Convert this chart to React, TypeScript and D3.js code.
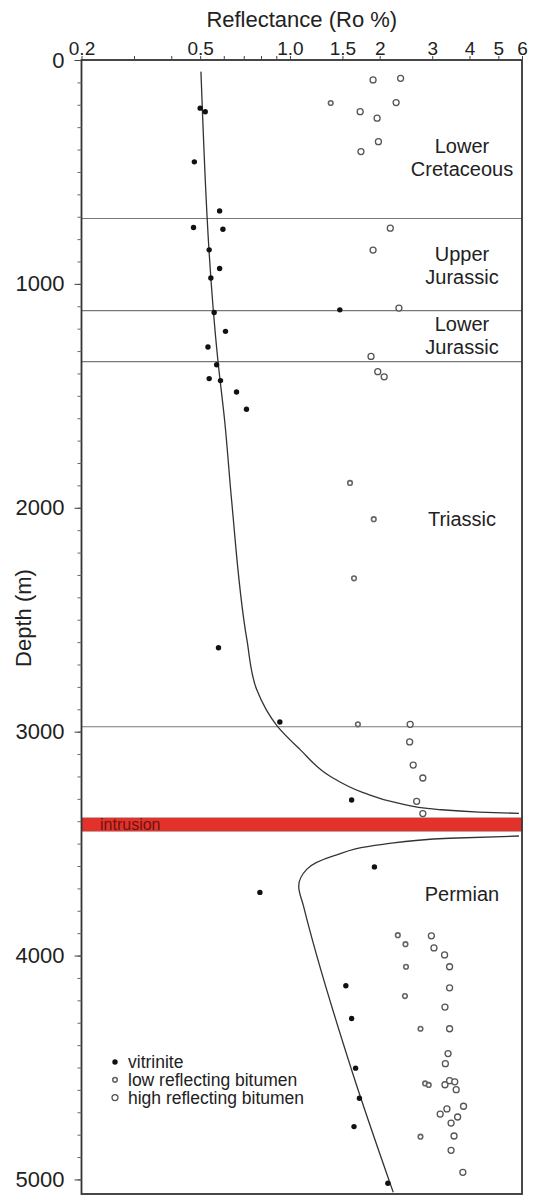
import React, { useEffect, useRef } from 'react'
import * as d3 from 'd3'

// every point is [Ro %, depth m]
const vitrinite = [
  [0.50, 215], [0.52, 231], [0.478, 455], [0.581, 674], [0.475, 748], [0.596, 756],
  [0.536, 848], [0.581, 931], [0.543, 974], [0.557, 1128], [1.47, 1116], [0.608, 1212],
  [0.531, 1282], [0.568, 1361], [0.536, 1423], [0.585, 1432], [0.662, 1483], [0.715, 1560],
  [0.576, 2625], [0.925, 2957], [1.61, 3305], [1.92, 3604], [0.793, 3718], [1.54, 4135],
  [1.61, 4281], [1.66, 4503], [1.71, 4637], [1.64, 4764], [2.13, 5017]
]

const lowBitumen = [
  [1.37, 192], [1.59, 1889], [1.91, 2051], [1.64, 2315], [1.69, 2967],
  [2.30, 3909], [2.44, 3949], [2.45, 4050], [2.43, 4181], [2.74, 4327],
  [2.84, 4571], [2.92, 4578], [2.74, 4809]
]

const highBitumen = [
  [1.90, 89], [2.35, 82], [2.27, 190], [1.72, 231], [1.96, 260], [1.98, 365], [1.73, 409],
  [2.17, 751], [1.90, 849], [2.32, 1108], [1.87, 1324], [1.97, 1392], [2.07, 1415],
  [2.53, 2967], [2.52, 3046], [2.59, 3149], [2.79, 3207], [2.66, 3311], [2.79, 3366],
  [2.98, 3912], [3.04, 3966], [3.30, 3997], [3.43, 4050], [3.43, 4144], [3.31, 4230],
  [3.43, 4327], [3.39, 4438], [3.32, 4483], [3.31, 4577], [3.43, 4559], [3.57, 4564],
  [3.61, 4599], [3.82, 4673], [3.36, 4685], [3.19, 4708], [3.65, 4721], [3.47, 4748],
  [3.55, 4806], [3.47, 4870], [3.80, 4968]
]

const trendAbove = [
  [0.503, 52], [0.573, 1339], [0.605, 1620], [0.637, 1963], [0.717, 2588], [0.773, 2811],
  [0.908, 2976], [1.08, 3079], [1.36, 3198], [1.76, 3272], [2.27, 3317],
  [3.11, 3347], [4.3, 3359], [5.86, 3365]
]

const trendBelow = [
  [5.86, 3466], [3.43, 3476], [2.05, 3503], [1.40, 3555], [1.14, 3614], [1.07, 3690],
  [1.11, 3778], [1.62, 4522], [2.22, 5057]
]

const boundaries = [708, 1119, 1347, 2978]
const intrusion = [3384, 3446]

const unitNames = [['Lower', 'Cretaceous'], ['Upper', 'Jurassic'], ['Lower', 'Jurassic'], ['Triassic'], ['Permian']]
const unitDepths = [437, 919, 1232, 2050, 3723]

const roTicks = [0.2, 0.3, 0.4, 0.5, 0.6, 0.7, 0.8, 0.9, 1, 1.5, 2, 3, 4, 5, 6]
const roLabels = ['0.2', '', '', '0.5', '', '', '', '', '1.0', '1.5', '2', '3', '4', '5', '6']
const depthTicks = [0, 1000, 2000, 3000, 4000, 5000]

const legendItems = ['vitrinite', 'low reflecting bitumen', 'high reflecting bitumen']

const FONT = '"Liberation Sans", Arial, sans-serif'

export default function App() {
  const ref = useRef(null)

  useEffect(() => {
    const svg = d3.select(ref.current)
    svg.selectAll('*').remove()

    const left = 81.5, right = 522, top = 60, bottom = 1194

    let x = d3.scaleLog().domain([0.2, 6]).range([left, right])
    let y = d3.scaleLinear().domain([0, 5065]).range([top, bottom])

    // intrusion band
    svg.append('rect')
      .attr('x', left)
      .attr('width', right - left)
      .attr('y', y(intrusion[0]))
      .attr('height', y(intrusion[1]) - y(intrusion[0]))
      .attr('fill', '#e2322b')
      .attr('stroke', '#aaa')
      .attr('stroke-width', 0.6)

    svg.append('text')
      .attr('x', 100)
      .attr('y', (y(intrusion[0]) + y(intrusion[1])) / 2)
      .attr('dy', '0.36em')
      .attr('font-family', FONT)
      .attr('font-size', 16)
      .attr('fill', '#6e1210')
      .text('intrusion')

    // formation boundaries
    svg.selectAll('.boundary').data(boundaries)
      .enter().append('line')
      .attr('class', 'boundary')
      .attr('x1', left).attr('x2', right)
      .attr('y1', d => y(d)).attr('y2', d => y(d))
      .attr('stroke', '#777')
      .attr('stroke-width', 1.2)

    // vitrinite trend, both parts are single valued in depth
    let line = d3.line()
      .x(d => x(d[0]))
      .y(d => y(d[1]))
      .curve(d3.curveMonotoneY)

    svg.selectAll('.trend').data([trendAbove, trendBelow])
      .enter().append('path')
      .attr('class', 'trend')
      .attr('d', d => line(d))
      .attr('fill', 'none')
      .attr('stroke', '#333')
      .attr('stroke-width', 1.3)

    svg.selectAll('.low').data(lowBitumen)
      .enter().append('circle')
      .attr('class', 'low')
      .attr('cx', d => x(d[0])).attr('cy', d => y(d[1]))
      .attr('r', 2.3)
      .attr('fill', '#fff')
      .attr('stroke', '#666')
      .attr('stroke-width', 1.6)

    svg.selectAll('.high').data(highBitumen)
      .enter().append('circle')
      .attr('class', 'high')
      .attr('cx', d => x(d[0])).attr('cy', d => y(d[1]))
      .attr('r', 3)
      .attr('fill', '#fff')
      .attr('stroke', '#555')
      .attr('stroke-width', 1.3)

    svg.selectAll('.vit').data(vitrinite)
      .enter().append('circle')
      .attr('class', 'vit')
      .attr('cx', d => x(d[0])).attr('cy', d => y(d[1]))
      .attr('r', 2.7)
      .attr('fill', '#111')

    // frame
    svg.append('rect')
      .attr('x', left).attr('y', top)
      .attr('width', right - left).attr('height', bottom - top)
      .attr('fill', 'none')
      .attr('stroke', '#333')
      .attr('stroke-width', 1.8)

    // axes
    let xAxis = svg.append('g')
      .attr('transform', 'translate(0,' + top + ')')
      .call(d3.axisTop(x).tickValues(roTicks).tickFormat((d, i) => roLabels[i]).tickSize(4).tickPadding(1))
    xAxis.select('.domain').remove()
    xAxis.selectAll('text').attr('font-size', 19).attr('font-family', FONT).attr('fill', '#222')
    xAxis.selectAll('line').attr('stroke', '#444')

    let yMinor = svg.append('g')
      .attr('transform', 'translate(' + left + ',0)')
      .call(d3.axisLeft(y).tickValues(d3.range(0, 5001, 100)).tickSize(4).tickFormat(() => ''))
    yMinor.select('.domain').remove()
    yMinor.selectAll('line').attr('stroke', '#666')

    let yAxis = svg.append('g')
      .attr('transform', 'translate(' + left + ',0)')
      .call(d3.axisLeft(y).tickValues(depthTicks).tickSize(7).tickPadding(10).tickFormat(d3.format('d')))
    yAxis.select('.domain').remove()
    yAxis.selectAll('text').attr('font-size', 22).attr('font-family', FONT).attr('fill', '#222')
    yAxis.selectAll('line').attr('stroke', '#444')

    svg.append('text')
      .attr('x', (left + right) / 2)
      .attr('y', 27)
      .attr('text-anchor', 'middle')
      .attr('font-family', FONT)
      .attr('font-size', 22)
      .attr('fill', '#222')
      .text('Reflectance (Ro %)')

    svg.append('text')
      .attr('transform', 'translate(23,618) rotate(-90)')
      .attr('dy', '0.35em')
      .attr('text-anchor', 'middle')
      .attr('font-family', FONT)
      .attr('font-size', 22)
      .attr('fill', '#222')
      .text('Depth (m)')

    // unit names
    unitNames.forEach((lines, i) => {
      let t = svg.append('text')
        .attr('text-anchor', 'middle')
        .attr('font-family', FONT)
        .attr('font-size', 20)
        .attr('fill', '#222')
      let cy = y(unitDepths[i]) - (lines.length - 1) * 11.5
      lines.forEach((s, j) => {
        t.append('tspan')
          .attr('x', 462)
          .attr('y', cy + j * 23)
          .attr('dy', '0.35em')
          .text(s)
      })
    })

    // legend
    let legend = svg.append('g').attr('transform', 'translate(115,1062)')
    legendItems.forEach((s, i) => {
      let g = legend.append('g').attr('transform', 'translate(0,' + (i * 17.8) + ')')
      if (i === 0) {
        g.append('circle').attr('r', 2.7).attr('fill', '#111')
      } else {
        g.append('circle')
          .attr('r', i === 1 ? 2.3 : 3)
          .attr('fill', '#fff')
          .attr('stroke', i === 1 ? '#666' : '#555')
          .attr('stroke-width', i === 1 ? 1.6 : 1.3)
      }
      g.append('text')
        .attr('x', 13)
        .attr('dy', '0.35em')
        .attr('font-family', FONT)
        .attr('font-size', 17.5)
        .attr('fill', '#222')
        .text(s)
    })
  }, [])

  return (
    <svg ref={ref} width={533} height={1196} style={{ position: 'absolute', left: 0, top: 0, background: '#fff' }}></svg>
  )
}
